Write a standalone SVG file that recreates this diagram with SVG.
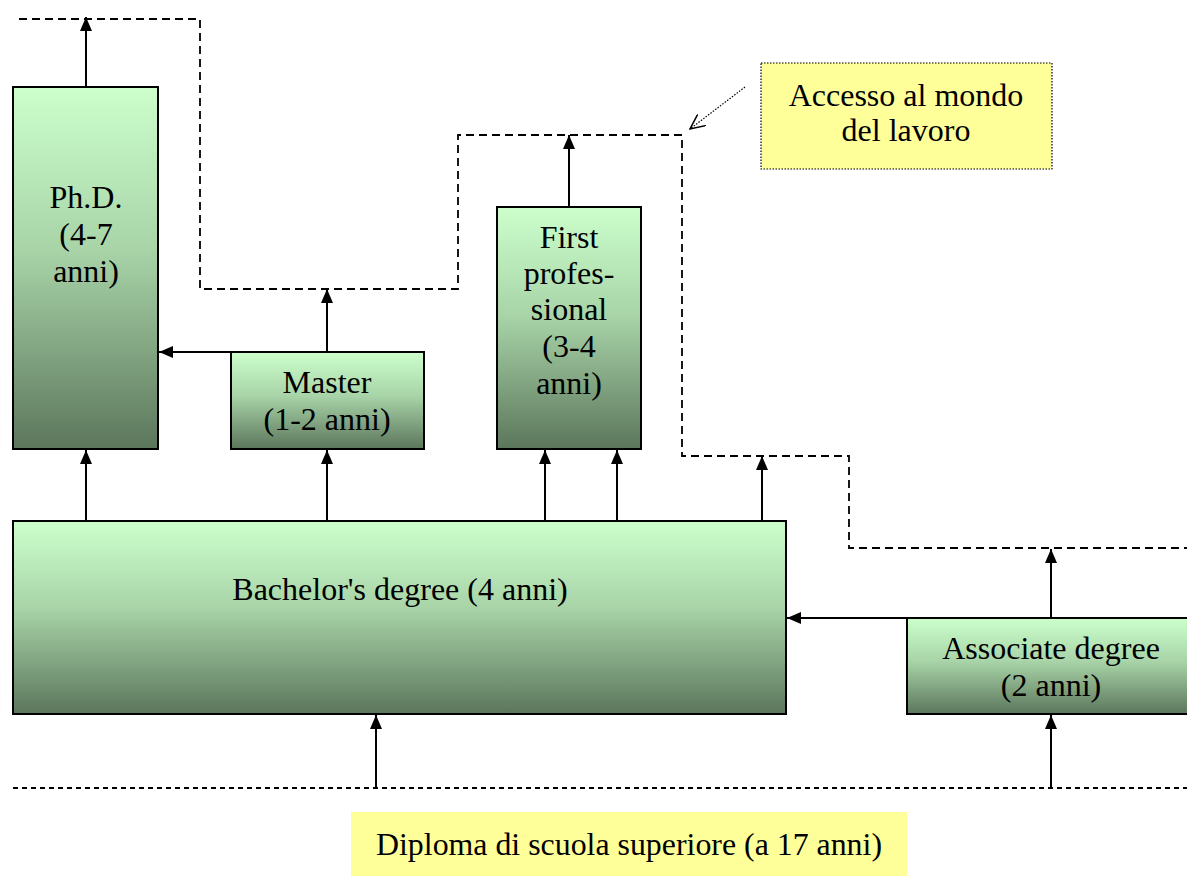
<svg xmlns="http://www.w3.org/2000/svg" width="1187" height="876" viewBox="0 0 1187 876">
<style>
.box{stroke:#000;stroke-width:2;fill:url(#g)}
.t{font-family:"Liberation Serif","Times New Roman",serif;font-size:32px;fill:#000;text-anchor:middle}
.c{stroke:#000;stroke-width:2;fill:none}
.d{stroke:#000;stroke-width:1.8;fill:none;stroke-dasharray:8 5}
</style>
<defs>
<linearGradient id="g" x1="0" y1="0" x2="0" y2="1">
<stop offset="0" stop-color="#ccffcc"/>
<stop offset="0.45" stop-color="#a8d4a8"/>
<stop offset="1" stop-color="#5c765c"/>
</linearGradient>
<marker id="a" viewBox="0 0 14 12" refX="14" refY="6" markerWidth="14" markerHeight="12" markerUnits="userSpaceOnUse" orient="auto">
<path d="M0,0 L14,6 L0,12 Z" fill="#000"/>
</marker>
<marker id="o" viewBox="0 0 16 14" refX="15" refY="7" markerWidth="16" markerHeight="14" markerUnits="userSpaceOnUse" orient="auto">
<path d="M0,0 L15,7 L0,14" fill="none" stroke="#000" stroke-width="1.5"/>
</marker>
</defs>
<rect width="1187" height="876" fill="#fff"/>
<g id="connectors">
<path class="d" d="M19,19 H200 V289 H458 V135 H682 V456 H849 V548 H1187"/>
<line x1="13" y1="788" x2="1187" y2="788" stroke="#000" stroke-width="1.8" stroke-dasharray="5 4"/>
<line class="c" x1="86" y1="87" x2="86" y2="17" marker-end="url(#a)"/>
<line class="c" x1="327" y1="352" x2="327" y2="289" marker-end="url(#a)"/>
<line class="c" x1="231" y1="352" x2="159" y2="352" marker-end="url(#a)"/>
<line class="c" x1="569" y1="207" x2="569" y2="135" marker-end="url(#a)"/>
<line class="c" x1="86" y1="521" x2="86" y2="450" marker-end="url(#a)"/>
<line class="c" x1="327" y1="521" x2="327" y2="450" marker-end="url(#a)"/>
<line class="c" x1="545" y1="521" x2="545" y2="450" marker-end="url(#a)"/>
<line class="c" x1="617" y1="569" x2="617" y2="450" marker-end="url(#a)"/>
<circle cx="617" cy="569" r="7" fill="#000"/>
<line class="c" x1="762" y1="521" x2="762" y2="456" marker-end="url(#a)"/>
<line class="c" x1="907" y1="618" x2="787" y2="618" marker-end="url(#a)"/>
<line class="c" x1="1051" y1="618" x2="1051" y2="549" marker-end="url(#a)"/>
<line class="c" x1="376" y1="788" x2="376" y2="715" marker-end="url(#a)"/>
<line class="c" x1="1051" y1="788" x2="1051" y2="715" marker-end="url(#a)"/>
<line x1="745" y1="87" x2="690" y2="129" stroke="#000" stroke-width="1.2" stroke-dasharray="1.5 1.5" marker-end="url(#o)"/>
</g>
<g id="phd">
<rect class="box" x="13" y="87" width="145" height="362"/>
<text class="t" x="86" y="208">Ph.D.</text>
<text class="t" x="86" y="245">(4-7</text>
<text class="t" x="86" y="282">anni)</text>
</g>
<g id="master">
<rect class="box" x="231" y="352" width="193" height="97"/>
<text class="t" x="327" y="393">Master</text>
<text class="t" x="327" y="430">(1-2 anni)</text>
</g>
<g id="firstprof">
<rect class="box" x="497" y="207" width="144" height="242"/>
<text class="t" x="569" y="248">First</text>
<text class="t" x="569" y="284">profes-</text>
<text class="t" x="569" y="320">sional</text>
<text class="t" x="569" y="357">(3-4</text>
<text class="t" x="569" y="394">anni)</text>
</g>
<g id="bachelor">
<rect class="box" x="13" y="521" width="773" height="193"/>
<text class="t" x="400" y="600">Bachelor's degree (4 anni)</text>
</g>
<g id="associate">
<rect class="box" x="907" y="618" width="290" height="96"/>
<text class="t" x="1051" y="659">Associate degree</text>
<text class="t" x="1051" y="696">(2 anni)</text>
</g>
<g id="accesso">
<rect x="761" y="63" width="291" height="106" fill="#ffff99" stroke="#000" stroke-width="1.2" stroke-dasharray="1.5 1.5"/>
<text class="t" x="906" y="106">Accesso al mondo</text>
<text class="t" x="906" y="141">del lavoro</text>
</g>
<g id="diploma">
<rect x="351" y="812" width="556" height="64" fill="#ffff99"/>
<text class="t" x="629" y="855" textLength="506" lengthAdjust="spacingAndGlyphs">Diploma di scuola superiore (a 17 anni)</text>
</g>
</svg>
